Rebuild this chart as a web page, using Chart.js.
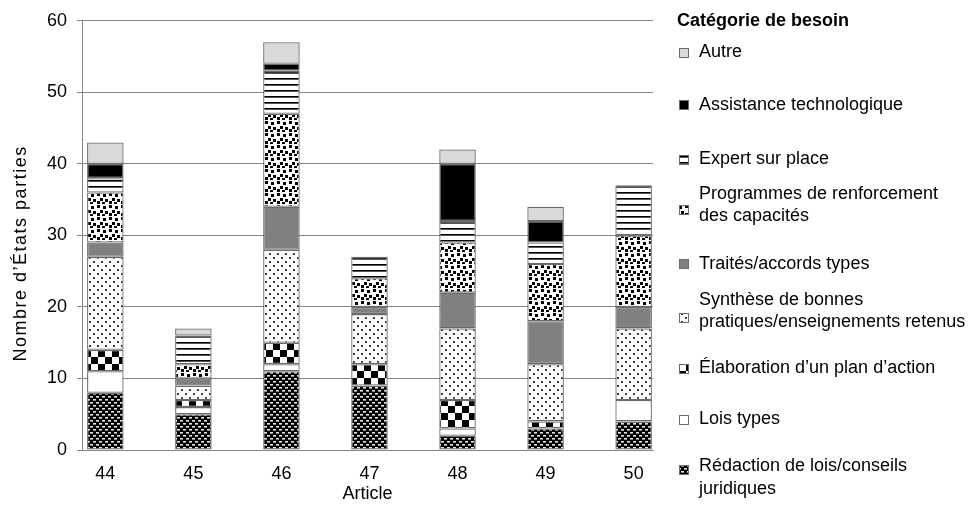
<!DOCTYPE html>
<html lang="fr">
<head>
<meta charset="utf-8">
<title>Catégorie de besoin par article</title>
<script src="https://cdn.jsdelivr.net/npm/chart.js@4.4.1/dist/chart.umd.min.js"></script>
<style>
  html, body { margin: 0; padding: 0; background: #ffffff; }
  canvas { display: block; }
</style>
</head>
<body>
<canvas id="chart" width="973" height="506"></canvas>
<script>
// Articles on the horizontal axis
const articles = [44, 45, 46, 47, 48, 49, 50];
const yTickValues = [0, 10, 20, 30, 40, 50, 60];

// Needs per article, stacked from the bottom up
const redaction   = [8, 5, 11, 9, 2, 3, 4];
const loisTypes   = [3, 1, 1, 0, 1, 0, 3];
const elaboration = [3, 1, 3, 3, 4, 1, 0];
const synthese    = [13, 2, 13, 7, 10, 8, 10];
const traites     = [2, 1, 6, 1, 5, 6, 3];
const programmes  = [7, 2, 13, 4, 7, 8, 10];
const expert      = [2, 4, 6, 3, 3, 3, 7];
const assistance  = [2, 0, 1, 0, 8, 3, 0];
const autre       = [3, 1, 3, 0, 2, 2, 0];

const seriesNames = [
  'Rédaction de lois/conseils\njuridiques',
  'Lois types',
  'Élaboration d’un plan d’action',
  'Synthèse de bonnes\npratiques/enseignements retenus',
  'Traités/accords types',
  'Programmes de renforcement\ndes capacités',
  'Expert sur place',
  'Assistance technologique',
  'Autre'
];
const seriesValues = [redaction, loisTypes, elaboration, synthese, traites, programmes, expert, assistance, autre];

const yTitle = 'Nombre d’États parties';
const xTitle = 'Article';
const legendTitle = 'Catégorie de besoin';

const canvas = document.getElementById('chart');
const ctx = canvas.getContext('2d');

// Tile-based fills for the monochrome bar segments
function tile(w, h, draw) {
  const c = document.createElement('canvas');
  c.width = w; c.height = h;
  const g = c.getContext('2d');
  draw(g, w, h);
  return ctx.createPattern(c, 'repeat');
}

const fills = [
  // dark field with light dashes
  tile(6, 6, (g, w, h) => {
    g.fillStyle = '#000'; g.fillRect(0, 0, w, h);
    g.fillStyle = '#e2e2e2'; g.fillRect(0, 0, 3, 1); g.fillRect(3, 3, 3, 1);
    g.fillStyle = '#8a8a8a'; g.fillRect(0, 1, 3, 1); g.fillRect(3, 4, 3, 1);
  }),
  '#ffffff',
  // large checkerboard
  tile(14, 14, (g, w, h) => {
    g.fillStyle = '#fff'; g.fillRect(0, 0, w, h);
    g.fillStyle = '#000'; g.fillRect(0, 0, 7, 7); g.fillRect(7, 7, 7, 7);
  }),
  // sparse small dots
  tile(8, 8, (g, w, h) => {
    g.fillStyle = '#fff'; g.fillRect(0, 0, w, h);
    g.fillStyle = '#3a3a3a'; g.fillRect(1, 1, 2, 2); g.fillRect(5, 5, 2, 2);
  }),
  '#808080',
  // confetti squares
  tile(12, 12, (g, w, h) => {
    g.fillStyle = '#fff'; g.fillRect(0, 0, w, h);
    g.fillStyle = '#000';
    [[1, 1], [7, 2], [4, 6], [9, 7], [1, 9], [6, 10]].forEach(([x, y]) => g.fillRect(x, y, 3, 3));
  }),
  // horizontal stripes
  tile(4, 6, (g, w, h) => {
    g.fillStyle = '#fff'; g.fillRect(0, 0, w, h);
    g.fillStyle = '#000'; g.fillRect(0, 0, w, 1);
    g.fillStyle = '#555'; g.fillRect(0, 1, w, 1);
  }),
  '#000000',
  '#d9d9d9'
];

const datasets = seriesValues.map((vals, i) => ({
  label: seriesNames[i],
  data: articles.map((a, j) => ({ x: a, y: vals[j] })),
  backgroundColor: fills[i],
  borderColor: '#6b6b6b',
  borderWidth: 1.3,
  borderSkipped: false,
  categoryPercentage: 1,
  barPercentage: 0.415
}));

const FONT_FAMILY = '"Liberation Sans", Arial, sans-serif';

// Legend entries at the right, first row = top of stack
const legendRows = [
  { first: 52.5,  swatch: 52.5 },
  { first: 105,   swatch: 105 },
  { first: 159.5, swatch: 159.5 },
  { first: 194,   swatch: 210 },
  { first: 264,   swatch: 264 },
  { first: 300,   swatch: 318 },
  { first: 368.5, swatch: 368.5 },
  { first: 419.5, swatch: 419.5 },
  { first: 466.5, swatch: 470 }
];

const sideLegend = {
  id: 'sideLegend',
  afterDraw(chart) {
    const g = chart.ctx;
    const boxX = 679, textX = 699, box = 10, lineGap = 22.5;
    g.save();
    g.fillStyle = '#000';
    g.textBaseline = 'middle';
    g.textAlign = 'left';
    g.font = 'bold 18px ' + FONT_FAMILY;
    g.fillText(legendTitle, 677, 21);
    g.font = '18px ' + FONT_FAMILY;
    const ds = chart.data.datasets.slice().reverse();
    ds.forEach((d, k) => {
      const row = legendRows[k];
      const top = Math.round(row.swatch - box / 2);
      g.fillStyle = d.backgroundColor;
      g.fillRect(boxX, top, box, box);
      g.strokeStyle = '#6b6b6b';
      g.lineWidth = 1;
      g.strokeRect(boxX + 0.5, top + 0.5, box - 1, box - 1);
      g.fillStyle = '#000';
      d.label.split('\n').forEach((line, n) => g.fillText(line, textX, row.first + n * lineGap));
    });

    // Vertical axis title, slightly spaced out
    const area = chart.chartArea;
    g.translate(21, (area.top + area.bottom) / 2 + 18);
    g.rotate(-Math.PI / 2);
    g.textAlign = 'center';
    g.font = '18px ' + FONT_FAMILY;
    if ('letterSpacing' in g) g.letterSpacing = '1.5px';
    g.fillText(yTitle, 0, 0);
    g.restore();
  }
};

const font = { family: FONT_FAMILY, size: 18 };

new Chart(ctx, {
  type: 'bar',
  data: { datasets },
  options: {
    responsive: false,
    animation: false,
    devicePixelRatio: 1,
    layout: { padding: { top: 19, right: 320, bottom: 0, left: 0 } },
    plugins: { legend: { display: false }, tooltip: { enabled: false } },
    scales: {
      x: {
        type: 'linear',
        stacked: true,
        offset: false,
        min: 43.735,
        max: 50.22,
        afterBuildTicks: (axis) => { axis.ticks = articles.map(v => ({ value: v })); },
        afterFit: (axis) => { axis.height = 56; },
        grid: { display: false, drawTicks: false },
        border: { display: true, color: '#868686', width: 1 },
        ticks: { autoSkip: false, maxRotation: 0, padding: 13, color: '#000', font },
        title: { display: true, text: xTitle, color: '#000', font, padding: { top: 0, bottom: 1 } }
      },
      y: {
        stacked: true,
        min: 0,
        max: 60,
        afterBuildTicks: (axis) => { axis.ticks = yTickValues.map(v => ({ value: v })); },
        afterFit: (axis) => { axis.width = 82; },
        grid: { color: '#868686', lineWidth: 1, drawTicks: true, tickLength: 5, tickColor: '#868686' },
        border: { display: true, color: '#868686', width: 1 },
        ticks: { padding: 10, color: '#000', font }
      }
    }
  },
  plugins: [sideLegend]
});
</script>
</body>
</html>
